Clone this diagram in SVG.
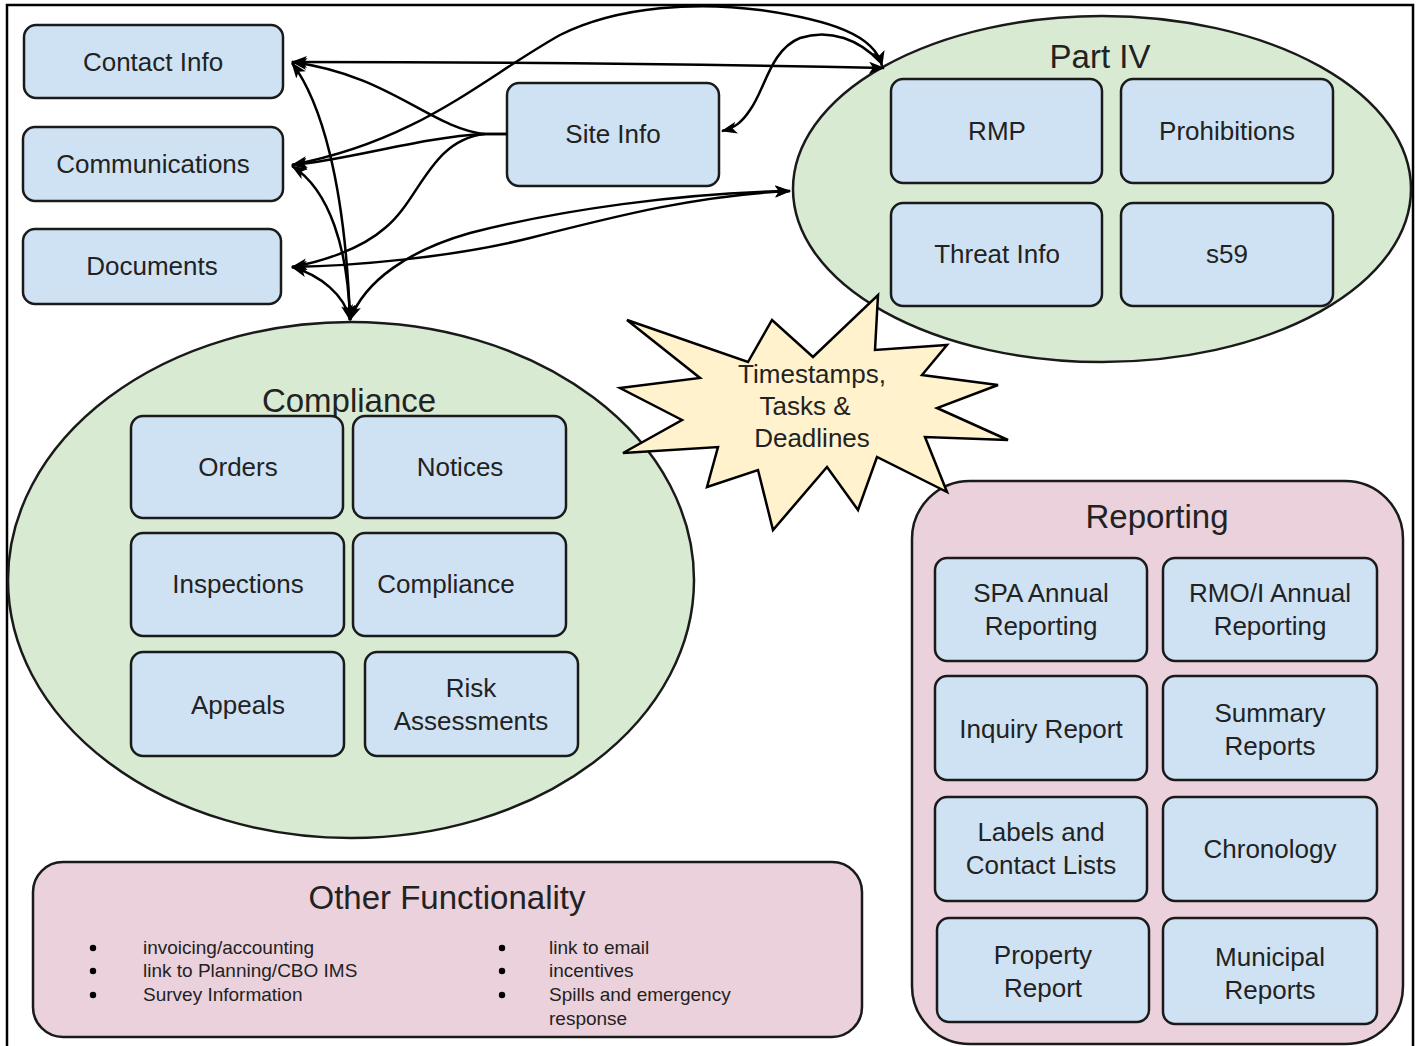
<svg xmlns="http://www.w3.org/2000/svg" width="1419" height="1046" viewBox="0 0 1419 1046">
<style>
text{font-family:"Liberation Sans",Arial,sans-serif;fill:#222;text-anchor:middle}
.b{fill:#cfe2f3;stroke:#1a1a1a;stroke-width:2.5}
.t{font-size:26px}
.h{font-size:33px}
.s{font-size:19px;text-anchor:start}
.c{fill:none;stroke:#000;stroke-width:2.5;marker-end:url(#ah)}
.d{marker-start:url(#ah)}
</style>
<defs>
<marker id="ah" viewBox="0 0 16 12" refX="15" refY="6" markerWidth="16" markerHeight="12" markerUnits="userSpaceOnUse" orient="auto-start-reverse">
<path d="M0,0 L16,6 L0,12 L4,6 z" fill="#000"/>
</marker>
</defs>
<rect x="7" y="5" width="1406" height="1060" fill="none" stroke="#000" stroke-width="2.5"/>

<g id="compliance-group">
<ellipse cx="351" cy="580" rx="343" ry="258" fill="#d9ead3" stroke="#1a1a1a" stroke-width="2.5"/>
<text class="h" x="349" y="412">Compliance</text>
<g id="orders"><rect class="b" x="131" y="416" width="212" height="102" rx="12"/><text class="t" x="238" y="476">Orders</text></g>
<g id="notices"><rect class="b" x="353" y="416" width="213" height="102" rx="12"/><text class="t" x="460" y="476">Notices</text></g>
<g id="inspections"><rect class="b" x="131" y="533" width="213" height="103" rx="12"/><text class="t" x="238" y="593">Inspections</text></g>
<g id="compliance"><rect class="b" x="353" y="533" width="213" height="103" rx="12"/><text class="t" x="446" y="593">Compliance</text></g>
<g id="appeals"><rect class="b" x="131" y="652" width="213" height="104" rx="12"/><text class="t" x="238" y="714">Appeals</text></g>
<g id="risk"><rect class="b" x="365" y="652" width="213" height="104" rx="12"/><text class="t" x="471" y="697">Risk</text><text class="t" x="471" y="730">Assessments</text></g>
</g>

<g id="part4-group">
<ellipse cx="1102" cy="189" rx="309" ry="173" fill="#d9ead3" stroke="#1a1a1a" stroke-width="2.5"/>
<text class="h" x="1100" y="68">Part IV</text>
<g id="rmp"><rect class="b" x="891" y="79" width="211" height="104" rx="12"/><text class="t" x="997" y="140">RMP</text></g>
<g id="prohibitions"><rect class="b" x="1121" y="79" width="212" height="104" rx="12"/><text class="t" x="1227" y="140">Prohibitions</text></g>
<g id="threat"><rect class="b" x="891" y="203" width="211" height="103" rx="12"/><text class="t" x="997" y="263">Threat Info</text></g>
<g id="s59"><rect class="b" x="1121" y="203" width="212" height="103" rx="12"/><text class="t" x="1227" y="263">s59</text></g>
</g>

<g id="reporting-group">
<rect x="912" y="481" width="491" height="563" rx="58" fill="#ead1dc" stroke="#1a1a1a" stroke-width="2.5"/>
<text class="h" x="1157" y="528">Reporting</text>
<g id="spa"><rect class="b" x="935" y="558" width="212" height="103" rx="12"/><text class="t" x="1041" y="602">SPA Annual</text><text class="t" x="1041" y="635">Reporting</text></g>
<g id="rmoi"><rect class="b" x="1163" y="558" width="214" height="103" rx="12"/><text class="t" x="1270" y="602">RMO/I Annual</text><text class="t" x="1270" y="635">Reporting</text></g>
<g id="inquiry"><rect class="b" x="935" y="676" width="212" height="104" rx="12"/><text class="t" x="1041" y="738">Inquiry Report</text></g>
<g id="summary"><rect class="b" x="1163" y="676" width="214" height="104" rx="12"/><text class="t" x="1270" y="722">Summary</text><text class="t" x="1270" y="755">Reports</text></g>
<g id="labels"><rect class="b" x="935" y="797" width="212" height="104" rx="12"/><text class="t" x="1041" y="841">Labels and</text><text class="t" x="1041" y="874">Contact Lists</text></g>
<g id="chronology"><rect class="b" x="1163" y="797" width="214" height="104" rx="12"/><text class="t" x="1270" y="858">Chronology</text></g>
<g id="property"><rect class="b" x="937" y="918" width="212" height="104" rx="12"/><text class="t" x="1043" y="964">Property</text><text class="t" x="1043" y="997">Report</text></g>
<g id="municipal"><rect class="b" x="1163" y="918" width="214" height="106" rx="12"/><text class="t" x="1270" y="966">Municipal</text><text class="t" x="1270" y="999">Reports</text></g>
</g>

<g id="other">
<rect x="33" y="862" width="829" height="175" rx="30" fill="#ead1dc" stroke="#1a1a1a" stroke-width="2.5"/>
<text class="h" x="447" y="909">Other Functionality</text>
<circle cx="93" cy="948" r="3.2" fill="#000"/><circle cx="93" cy="971" r="3.2" fill="#000"/><circle cx="93" cy="995" r="3.2" fill="#000"/>
<circle cx="502" cy="948" r="3.2" fill="#000"/><circle cx="502" cy="971" r="3.2" fill="#000"/><circle cx="502" cy="995" r="3.2" fill="#000"/>
<text class="s" x="143" y="954">invoicing/accounting</text>
<text class="s" x="143" y="977">link to Planning/CBO IMS</text>
<text class="s" x="143" y="1001">Survey Information</text>
<text class="s" x="549" y="954">link to email</text>
<text class="s" x="549" y="977">incentives</text>
<text class="s" x="549" y="1001">Spills and emergency</text>
<text class="s" x="549" y="1025">response</text>
</g>

<g id="contact-info"><rect class="b" x="24" y="25" width="259" height="73" rx="12"/><text class="t" x="153" y="71">Contact Info</text></g>
<g id="communications"><rect class="b" x="23" y="127" width="260" height="74" rx="12"/><text class="t" x="153" y="173">Communications</text></g>
<g id="documents"><rect class="b" x="23" y="229" width="258" height="75" rx="12"/><text class="t" x="152" y="275">Documents</text></g>
<g id="site-info"><rect class="b" x="507" y="83" width="212" height="103" rx="12"/><text class="t" x="613" y="143">Site Info</text></g>

<g id="connectors">
<path class="c d" d="M292,62 C500,62 700,64 884,68"/>
<path class="c" d="M507,134 L485,134 C430,128 390,75 292,62"/>
<path class="c" d="M507,134 L485,134 C420,137 350,160 292,165"/>
<path class="c" d="M485,134 C430,140 420,200 385,228 C360,250 320,262 292,267"/>
<path class="c d" d="M292,165 C420,140 480,80 560,35 C620,5 700,2 760,10 C830,20 875,35 882,66"/>
<path class="c" d="M880,62 C860,40 830,28 800,38 C770,50 765,90 750,110 C742,122 735,128 722,131"/>
<path class="c d" d="M292,267 C350,266 450,258 530,238 C620,215 700,195 790,191"/>
<path class="c d" d="M790,191 C680,193 560,210 470,233 C410,250 365,280 350,320"/>
<path class="c d" d="M292,63 C320,100 345,180 350,320"/>
<path class="c d" d="M292,166 C330,190 348,250 350,320"/>
<path class="c d" d="M292,267 C320,275 345,295 350,320"/>
</g>

<g id="timestamps">
<polygon points="627,320 748,362 772,320 813,357 878,295 875,350 947,345 922,375 998,385 937,408 1008,440 925,437 947,492 877,457 858,510 827,467 773,530 758,470 707,487 718,447 623,453 682,420 620,388 700,378" fill="#fff2cc" stroke="#000" stroke-width="2.5" stroke-linejoin="miter"/>
<text class="t" x="812" y="383">Timestamps,</text>
<text class="t" x="805" y="415">Tasks &amp;</text>
<text class="t" x="812" y="447">Deadlines</text>
</g>
</svg>
